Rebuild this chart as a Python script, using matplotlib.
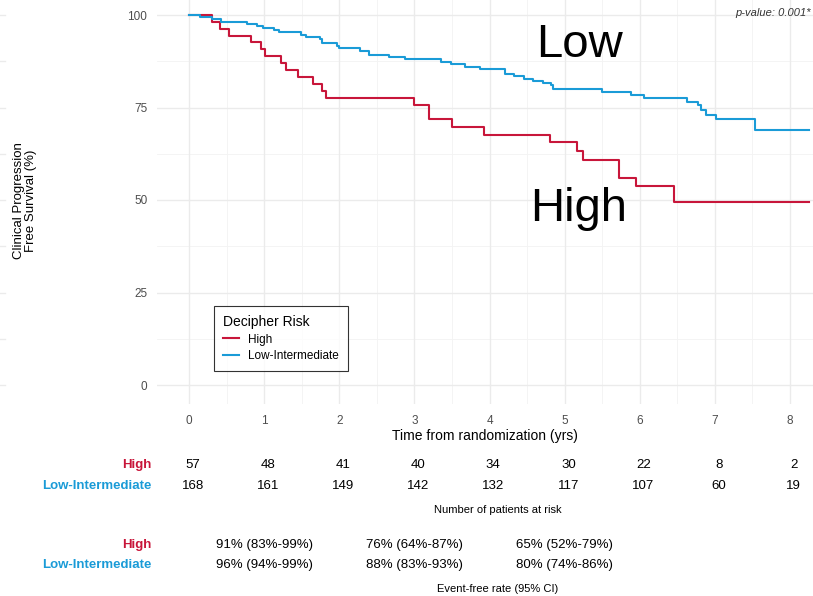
import matplotlib
matplotlib.use("Agg")
import matplotlib.pyplot as plt
import matplotlib.transforms as mtransforms

plt.rcParams['font.family'] = ['Liberation Sans', 'DejaVu Sans']

# Kaplan-Meier steps (time in years, survival in %)
high_t = [0, 0.31, 0.41, 0.53, 0.82, 0.96, 1.01, 1.22, 1.29, 1.45, 1.65, 1.77, 1.83,
          2.99, 3.20, 3.50, 3.93, 4.80, 5.17, 5.25, 5.73, 5.95, 6.46]
high_s = [100, 98.2, 96.3, 94.4, 92.7, 90.8, 88.9, 87.1, 85.2, 83.3, 81.4, 79.5, 77.5,
          75.6, 71.9, 69.7, 67.7, 65.7, 63.3, 60.8, 56.0, 53.8, 49.5]
low_t = [0, 0.14, 0.31, 0.42, 0.77, 0.90, 0.98, 1.13, 1.20, 1.49, 1.56, 1.74, 1.77,
         1.97, 2.00, 2.28, 2.40, 2.66, 2.87, 3.35, 3.49, 3.67, 3.87, 4.21, 4.33, 4.46,
         4.58, 4.71, 4.82, 4.84, 5.50, 5.88, 6.06, 6.63, 6.77, 6.81, 6.88, 7.02, 7.54]
low_s = [100, 99.5, 98.9, 98.2, 97.7, 97.1, 96.5, 95.9, 95.3, 94.7, 94.1, 93.4, 92.3,
         91.6, 91.0, 90.4, 89.3, 88.6, 88.0, 87.4, 86.7, 86.0, 85.4, 84.1, 83.4, 82.8,
         82.2, 81.5, 81.0, 79.9, 79.2, 78.5, 77.7, 76.6, 75.6, 74.3, 73.1, 71.9, 69.0]
t_end = 8.25

groups = ['High', 'Low-Intermediate']
risk_times = [0, 1, 2, 3, 4, 5, 6, 7, 8]
risk_high = [57, 48, 41, 40, 34, 30, 22, 8, 2]
risk_low = [168, 161, 149, 142, 132, 117, 107, 60, 19]
rate_times = [1, 3, 5]
rate_high = ['91% (83%-99%)', '76% (64%-87%)', '65% (52%-79%)']
rate_low = ['96% (94%-99%)', '88% (83%-93%)', '80% (74%-86%)']

c_high = '#C8163A'
c_low = '#1A9BD7'
W, H = 813, 596

fig = plt.figure(figsize=(W / 100, H / 100), dpi=100)
# panel in pixel coords: x 157..813, y -3.5..403.5 (from top)
ax = fig.add_axes([157 / W, (H - 403.5) / H, (813 - 157) / W, 407 / H])
ax.set_xlim(-0.426, 8.306)
ax.set_ylim(-5, 105)

# grid like theme_minimal
for v in [12.5, 37.5, 62.5, 87.5]:
    ax.axhline(v, color='#F3F3F3', lw=0.6, zorder=0)
for v in [0.5, 1.5, 2.5, 3.5, 4.5, 5.5, 6.5, 7.5]:
    ax.axvline(v, color='#F3F3F3', lw=0.6, zorder=0)
ax.set_yticks([0, 25, 50, 75, 100])
ax.set_xticks(range(0, 9))
ax.grid(True, color='#EBEBEB', lw=1.0, zorder=0)
ax.set_axisbelow(True)
for s in ax.spines.values():
    s.set_visible(False)
ax.tick_params(length=0, colors='#4D4D4D', labelsize=8.5)
ax.tick_params(axis='y', pad=7)
ax.tick_params(axis='x', pad=8)

ax.step(high_t + [t_end], high_s + [high_s[-1]], where='post', color=c_high, lw=1.5, label='High')
ax.step(low_t + [t_end], low_s + [low_s[-1]], where='post', color=c_low, lw=1.5, label='Low-Intermediate')

ax.set_xlabel('Time from randomization (yrs)', fontsize=10, labelpad=2)
fig.text(25 / W, (H - 201) / H, 'Clinical Progression\nFree Survival (%)', rotation=90,
         ha='center', va='center', multialignment='center', fontsize=9.5, linespacing=1.05)

ax.text(5.2, 92, 'Low', fontsize=34, ha='center', va='center')
ax.text(5.18, 47.5, 'High', fontsize=34, ha='center', va='center')
ax.text(8.28, 100.5, 'p-value: 0.001*', fontsize=8, style='italic', ha='right', va='center', color='#333333')

leg = ax.legend(title='Decipher Risk', loc='upper left', bbox_to_anchor=((214 - 157) / 656, (403.5 - 306) / 407),
                fontsize=8.5, title_fontsize=10, frameon=True, fancybox=False, edgecolor='black',
                handlelength=1.3, borderpad=0.8, labelspacing=0.35, borderaxespad=0)
leg.get_frame().set_linewidth(0.8)
leg._legend_box.align = 'left'

# faint grid stubs at the left edge
for yp in [15, 61, 108, 154, 200, 246, 293, 339, 385]:
    fig.add_artist(plt.Line2D([0, 5 / W], [(H - yp) / H] * 2, color='#EBEBEB', lw=1))

# risk table and event-free rates share the x scale of the plot
tr = mtransforms.blended_transform_factory(ax.transData, fig.transFigure)
narrow = ['Liberation Sans Narrow', 'Liberation Sans', 'DejaVu Sans']

def row_label(y_px, name, color):
    fig.text(151 / W, (H - y_px) / H, name, ha='right', va='center', fontsize=9.5,
             fontweight='bold', color=color, family=narrow)

row_label(465, groups[0], c_high)
row_label(486, groups[1], c_low)
for t, a, b in zip(risk_times, risk_high, risk_low):
    ax.text(t + 0.05, (H - 465) / H, str(a), transform=tr, ha='center', va='center', fontsize=9.5, family=narrow)
    ax.text(t + 0.05, (H - 486) / H, str(b), transform=tr, ha='center', va='center', fontsize=9.5, family=narrow)
fig.text(498 / W, (H - 510) / H, 'Number of patients at risk', ha='center', va='center', fontsize=8, family=narrow)

row_label(545, groups[0], c_high)
row_label(565, groups[1], c_low)
for t, a, b in zip(rate_times, rate_high, rate_low):
    ax.text(t, (H - 545) / H, a, transform=tr, ha='center', va='center', fontsize=9.5, family=narrow)
    ax.text(t, (H - 565) / H, b, transform=tr, ha='center', va='center', fontsize=9.5, family=narrow)
fig.text(498 / W, (H - 589) / H, 'Event-free rate (95% CI)', ha='center', va='center', fontsize=8, family=narrow)

fig.savefig('out.png', dpi=100)
